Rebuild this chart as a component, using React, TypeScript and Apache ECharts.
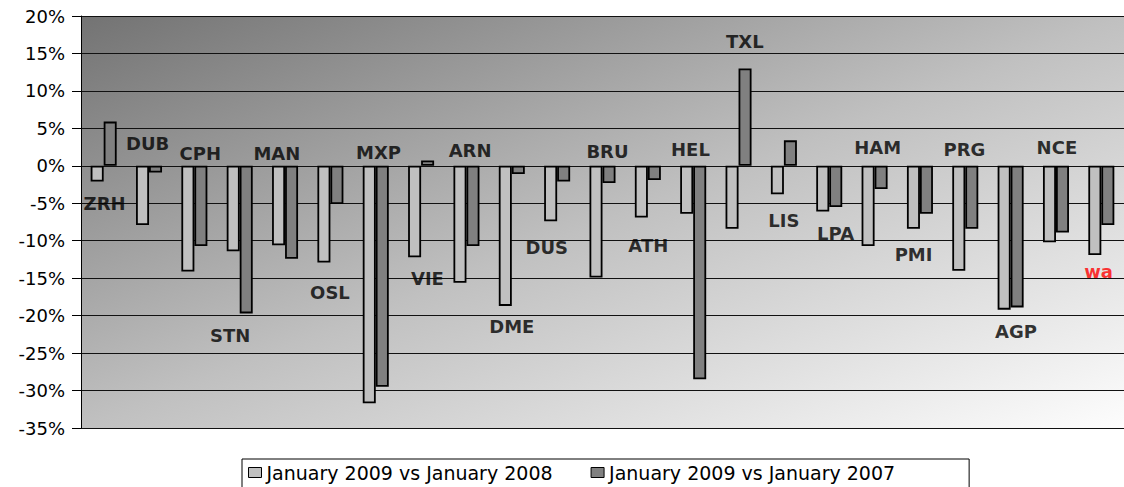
import React, { useEffect, useRef } from "react";
import * as echarts from "echarts";

const categories = ["ZRH", "DUB", "CPH", "STN", "MAN", "OSL", "MXP", "VIE", "ARN", "DME", "DUS", "BRU", "ATH", "HEL", "TXL", "LIS", "LPA", "HAM", "PMI", "PRG", "AGP", "NCE", "wa"];
const vs2008 = [-2.1, -7.9, -14.1, -11.4, -10.6, -12.9, -31.7, -12.2, -15.6, -18.7, -7.4, -14.9, -6.9, -6.4, -8.4, -3.8, -6.1, -10.7, -8.4, -14.0, -19.2, -10.2, -11.9];
const vs2007 = [5.9, -0.9, -10.7, -19.7, -12.4, -5.1, -29.5, 0.7, -10.7, -1.1, -2.1, -2.3, -1.9, -28.5, 13.0, 3.4, -5.5, -3.1, -6.4, -8.4, -18.9, -8.9, -7.9];
const seriesNames = ["January 2009 vs January 2008", "January 2009 vs January 2007"];

// annotation anchors (category units, percent)
const labelNames = categories;
const labelX = [0.52, 1.47, 2.63, 3.29, 4.32, 5.49, 6.56, 7.64, 8.58, 9.5, 10.27, 11.61, 12.51, 13.44, 14.64, 15.5, 16.64, 17.57, 18.36, 19.48, 20.62, 21.52, 22.44];
const labelY = [-4.97, 3.04, 1.58, -22.6, 1.58, -16.9, 1.84, -15.0, 2.1, -21.5, -10.9, 1.88, -10.6, 2.24, 16.57, -7.24, -8.97, 2.5, -11.8, 2.24, -22.06, 2.5, -14.14];

const yTicks = { min: -35, max: 20, interval: 5 };

export default function App() {
  const ref = useRef<HTMLDivElement>(null);
  useEffect(() => {
    if (!ref.current) return;
    const chart = echarts.init(ref.current, null, { renderer: "svg" });
    const labelData = labelNames.map((n, i) => ({
      name: n,
      value: [labelX[i], labelY[i]],
      label: n === "wa" ? { color: "#ff0000" } : undefined,
    }));
    chart.setOption({
      animation: false,
      backgroundColor: "#ffffff",
      grid: {
        left: 81,
        top: 16,
        right: -4,
        bottom: 59,
        show: true,
        borderWidth: 0,
        backgroundColor: new echarts.graphic.LinearGradient(0, 0, 1, 1, [
          { offset: 0, color: "#737373" },
          { offset: 0.5, color: "#c0c0c0" },
          { offset: 1, color: "#fdfdfd" },
        ]),
      },
      legend: {
        data: seriesNames,
        left: 242,
        top: 459,
        icon: "rect",
        itemWidth: 13,
        itemHeight: 10,
        itemGap: 38,
        padding: [4, 74, 30, 6],
        borderColor: "#000",
        borderWidth: 1,
        itemStyle: { borderColor: "#000", borderWidth: 1 },
        textStyle: { fontFamily: "DejaVu Sans", fontSize: 19, color: "#000", padding: [0, 0, 0, 0] },
      },
      xAxis: [
        {
          type: "category",
          data: categories,
          axisLine: { show: false },
          axisTick: { show: false },
          axisLabel: { show: false },
          splitLine: { show: false },
        },
        { type: "value", min: 0, max: categories.length, show: false },
      ],
      yAxis: {
        type: "value",
        min: yTicks.min,
        max: yTicks.max,
        interval: yTicks.interval,
        axisLine: { show: true, lineStyle: { color: "#000", width: 1 } },
        axisTick: { show: true, length: 9, lineStyle: { color: "#000" } },
        axisLabel: {
          formatter: "{value}%",
          fontFamily: "DejaVu Sans",
          fontSize: 18,
          color: "#000",
          margin: 16,
        },
        splitLine: { show: true, lineStyle: { color: "#111", width: 1 } },
      },
      series: [
        {
          name: seriesNames[0],
          type: "bar",
          data: vs2008,
          barWidth: 13,
          barGap: "0%",
          itemStyle: { color: "#c0c0c0", borderColor: "#000", borderWidth: 1.8 },
        },
        {
          name: seriesNames[1],
          type: "bar",
          data: vs2007,
          barWidth: 13,
          barGap: "0%",
          itemStyle: { color: "#808080", borderColor: "#000", borderWidth: 1.8 },
        },
        {
          type: "scatter",
          xAxisIndex: 1,
          yAxisIndex: 0,
          symbolSize: 0,
          silent: true,
          data: labelData,
          label: {
            show: true,
            position: "inside",
            formatter: "{b}",
            fontFamily: "DejaVu Sans",
            fontWeight: "bold",
            fontSize: 18,
            color: "#000",
            textBorderWidth: 0,
          },
          z: 5,
        },
      ],
    });
    return () => chart.dispose();
  }, []);
  return <div ref={ref} style={{ position: "fixed", left: 0, top: 0, width: 1124, height: 487 }} />;
}
